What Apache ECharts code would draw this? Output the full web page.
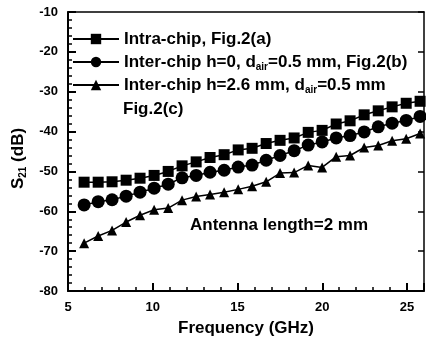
<!DOCTYPE html>
<html>
<head>
<meta charset="utf-8">
<script src="https://cdn.jsdelivr.net/npm/echarts@6/dist/echarts.min.js"></script>
<style>
  html, body { margin: 0; padding: 0; background: #fff; }
  #chart { width: 426px; height: 350px; }
</style>
</head>
<body>
<div id="chart"></div>
<script>
// frequency points (GHz)
const freq = [5.95, 6.78, 7.60, 8.43, 9.25, 10.08, 10.91, 11.73, 12.56, 13.38, 14.21, 15.04,
  15.86, 16.69, 17.51, 18.34, 19.17, 19.99, 20.82, 21.64, 22.47, 23.30, 24.12, 24.95, 25.77];

// S21 (dB)
const intraChip = [-52.7, -52.7, -52.6, -52.2, -51.7, -51.0, -50.0, -48.6, -47.6, -46.5, -45.8, -44.6,
  -44.2, -43.0, -42.2, -41.6, -40.2, -39.7, -38.1, -37.3, -35.8, -34.8, -33.8, -32.9, -32.4];
const interChipH0 = [-58.4, -57.6, -57.1, -56.2, -55.2, -54.2, -53.2, -51.6, -51.0, -50.2, -49.7, -48.9,
  -48.4, -47.2, -46.0, -44.8, -43.4, -42.6, -41.6, -41.0, -40.1, -38.8, -37.9, -37.2, -36.2];
const interChipH26 = [-68.0, -66.2, -64.8, -62.7, -61.0, -59.6, -59.2, -57.2, -56.3, -55.8, -55.2, -54.5,
  -53.7, -52.6, -50.4, -50.3, -48.5, -49.0, -46.3, -46.0, -44.0, -43.5, -42.3, -41.8, -40.5];

const seriesNames = ['Intra-chip, Fig.2(a)', 'Inter-chip h=0, dair=0.5 mm, Fig.2(b)', 'Inter-chip h=2.6 mm, dair=0.5 mm'];
const legendLabels = ['Intra-chip, Fig.2(a)', 'Inter-chip h=0, d{sub|air}=0.5 mm, Fig.2(b)', 'Inter-chip h=2.6 mm, d{sub|air}=0.5 mm'];

const FONT = '"Liberation Sans", Arial, sans-serif';
const subStyle = { fontFamily: FONT, fontWeight: 'bold', fontSize: 10, color: '#000', padding: [10, 0, 0, 0] };

function pairs(ys) {
  return ys.map((v, i) => [freq[i], v]);
}

function lineSeries(name, ys, symbol, size) {
  return {
    name: name,
    type: 'line',
    data: pairs(ys),
    symbol: symbol,
    symbolSize: size,
    itemStyle: { color: '#000' },
    lineStyle: { color: '#000', width: 1.5 },
    z: 3
  };
}

const chart = echarts.init(document.getElementById('chart'));
chart.setOption({
  animation: false,
  backgroundColor: '#fff',
  grid: { left: 68, right: 2, top: 12, bottom: 59 },
  legend: {
    orient: 'vertical',
    left: 72,
    top: 29,
    padding: 0,
    itemWidth: 46,
    itemHeight: 13,
    itemGap: 3,
    data: seriesNames,
    formatter: function(name) { return legendLabels[seriesNames.indexOf(name)]; },
    textStyle: {
      fontFamily: FONT, fontWeight: 'bold', fontSize: 17, color: '#000', lineHeight: 20,
      rich: { sub: subStyle }
    }
  },
  graphic: [
    { type: 'text', left: 123, top: 101, style: { text: 'Fig.2(c)', font: 'bold 17px ' + FONT, fill: '#000' } },
    { type: 'text', left: 190, top: 217, style: { text: 'Antenna length=2 mm', font: 'bold 17px ' + FONT, fill: '#000' } }
  ],
  xAxis: [{
    type: 'value', min: 5, max: 26, interval: 5,
    name: 'Frequency (GHz)', nameLocation: 'middle', nameGap: 29,
    nameTextStyle: { fontFamily: FONT, fontWeight: 'bold', fontSize: 17, color: '#000' },
    axisLine: { lineStyle: { color: '#000', width: 2 } },
    axisTick: { inside: true, length: 8, lineStyle: { color: '#000', width: 2 } },
    minorTick: { show: true, splitNumber: 5, length: 4, lineStyle: { color: '#000', width: 1.5 } },
    axisLabel: { fontFamily: FONT, fontWeight: 'bold', fontSize: 13, color: '#000', margin: 10, showMaxLabel: false },
    splitLine: { show: false }
  }, {
    type: 'value', position: 'top', min: 5, max: 26, interval: 5,
    axisLine: { lineStyle: { color: '#000', width: 1.5 } },
    axisTick: { show: false },
    axisLabel: { show: false },
    splitLine: { show: false }
  }],
  yAxis: [{
    type: 'value', min: -80, max: -10, interval: 10,
    name: 'S{sub|21} (dB)', nameLocation: 'middle', nameGap: 40,
    nameTextStyle: {
      fontFamily: FONT, fontWeight: 'bold', fontSize: 17, color: '#000', padding: [0, 14, 0, 0],
      rich: { sub: subStyle }
    },
    axisLine: { lineStyle: { color: '#000', width: 2 } },
    axisTick: { inside: true, length: 8, lineStyle: { color: '#000', width: 2 } },
    minorTick: { show: true, splitNumber: 5, length: 4, lineStyle: { color: '#000', width: 1.5 } },
    axisLabel: { fontFamily: FONT, fontWeight: 'bold', fontSize: 13, color: '#000', margin: 10 },
    splitLine: { show: false }
  }, {
    type: 'value', position: 'right', min: -80, max: -10, interval: 10,
    axisLine: { lineStyle: { color: '#000', width: 1.5 } },
    axisTick: { inside: true, length: 6, lineStyle: { color: '#000', width: 1.5 } },
    axisLabel: { show: false },
    splitLine: { show: false }
  }],
  series: [
    lineSeries(seriesNames[0], intraChip, 'rect', 11),
    lineSeries(seriesNames[1], interChipH0, 'circle', 13),
    lineSeries(seriesNames[2], interChipH26, 'triangle', 10)
  ]
});
</script>
</body>
</html>
